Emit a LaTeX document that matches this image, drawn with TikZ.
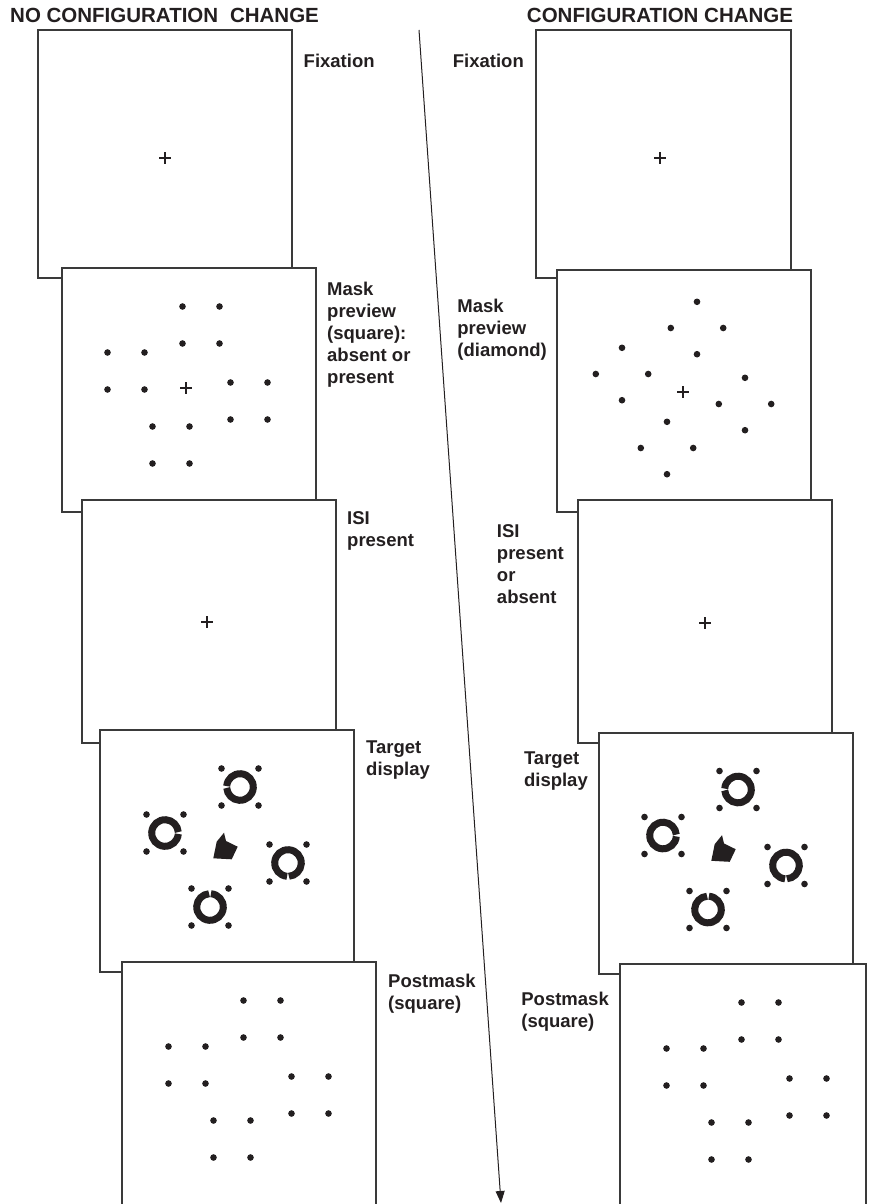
\documentclass[tikz,border=0pt]{standalone}
\usepackage{fontspec}
\setmainfont{Liberation Sans}
\usetikzlibrary{arrows.meta}

\definecolor{ink}{HTML}{231F20}
\definecolor{frame}{HTML}{3A3A3A}

\tikzset{
  screen/.style={draw=frame, fill=white, line width=1.3pt},
  lbl/.style={font=\fontsize{18.5}{22}\selectfont\bfseries, text=ink,
    align=left, inner sep=0pt},
  head/.style={font=\fontsize{20.5}{24}\selectfont\bfseries, text=ink, inner sep=0pt},
  % fixation cross
  fixcross/.pic={\draw[ink, line width=2.9pt] (-5.6,0) -- (5.6,0) (0,-5.6) -- (0,5.6);},
  % four dots at the corners of a square
  quad/.pic={\fill[ink] (-18.5,-18.5) circle (3.3) (18.5,-18.5) circle (3.3)
                        (-18.5,18.5) circle (3.3) (18.5,18.5) circle (3.3);},
  % four dots at the corners of a diamond
  rhomb/.pic={\fill[ink] (0,-26.2) circle (3.3) (0,26.2) circle (3.3)
                         (-26.2,0) circle (3.3) (26.2,0) circle (3.3);},
  % thick ring with a small gap at angle #1
  ring/.pic={\draw[ink, line width=7pt]
     (#1+4:13.3) arc[start angle=#1+4, end angle=#1+356, radius=13.3];},
  % square mask: four square groups of dots
  sqmask/.pic={\foreach \cx/\cy in {140/57, 65/103, 188/133, 110/177}
     {\pic at (\cx,\cy) {quad};}},
  % diamond mask: four diamond groups of dots
  dimask/.pic={\foreach \cx/\cy in {140/57, 65/103, 188/133, 110/177}
     {\pic at (\cx,\cy) {rhomb};}},
  % target display: four gapped rings with their dots and the central cue
  targets/.pic={
     \foreach \cx/\cy in {140/57, 65/103, 188/133, 110/177}
        {\pic at (\cx,\cy) {quad};}
     \pic at (140,57) {ring=180};
     \pic at (65,103) {ring=0};
     \pic at (188,133) {ring=90};
     \pic at (110,177) {ring=270};
     \fill[ink] (124,102.7) -- (126,111) -- (137.7,116.7) -- (131.7,129.3)
                -- (113.3,128.3) -- (116.7,111.7) -- cycle;
  },
}

\begin{document}
\begin{tikzpicture}[x=1pt, y=-1pt]
\useasboundingbox (0,0) rectangle (868,1204);
\clip (0,0) rectangle (868,1204);

% column headings
\node[head, anchor=base west] (hleft) at (10,22.5) {NO CONFIGURATION\hspace{0.3em} CHANGE};
\node[head, anchor=base] (hright) at (660,22.5) {CONFIGURATION CHANGE};

% ---------------- left sequence ----------------
\draw[screen] (38,30) rectangle ++(254,248);
\pic at (165,158) {fixcross};
\draw[screen] (62,268) rectangle ++(254,244);
\begin{scope}[shift={(61,268)}]
  \pic {sqmask};
  \pic at (125,120) {fixcross};
\end{scope}
\draw[screen] (82,500) rectangle ++(254,243);
\pic at (207,622) {fixcross};
\draw[screen] (100,730) rectangle ++(254,242);
\begin{scope}[shift={(100,730)}]
  \pic {targets};
\end{scope}
\draw[screen] (122,962) rectangle ++(254,260);
\begin{scope}[shift={(122,962)}]
  \pic {sqmask};
\end{scope}

% step labels (first-line baseline 13.4 below the anchor)
\node[lbl, anchor=north west] (l1) at (303.5,53.6) {Fixation};
\node[lbl, anchor=north west] (l2) at (327,281.6) {Mask\\preview\\(square):\\absent or\\present};
\node[lbl, anchor=north west] (l3) at (347,511.6) {ISI\\present};
\node[lbl, anchor=north west] (l4) at (366,740.6) {Target\\display};
\node[lbl, anchor=north west] (l5) at (388,973.6) {Postmask\\(square)};

% ---------------- right sequence ----------------
\draw[screen] (536,30) rectangle ++(255,248);
\pic at (660,158) {fixcross};
\draw[screen] (557,270) rectangle ++(254,242);
\begin{scope}[shift={(557,271)}]
  \pic {dimask};
  \pic at (126,121) {fixcross};
\end{scope}
\draw[screen] (578,500) rectangle ++(254,243);
\pic at (705,623) {fixcross};
\draw[screen] (599,733) rectangle ++(254,241);
\begin{scope}[shift={(598,732.5)}]
  \pic {targets};
\end{scope}
\draw[screen] (620,964) rectangle (866,1224);
\begin{scope}[shift={(620,964)}]
  \pic {sqmask};
\end{scope}

\node[lbl, anchor=north east] (r1) at (524,53.6) {Fixation};
\node[lbl, anchor=north east] (r2) at (547,298.6) {Mask\\preview\\(diamond)};
\node[lbl, anchor=north east] (r3) at (564,524.6) {ISI\\present\\or\\absent};
\node[lbl, anchor=north east] (r4) at (588,751.6) {Target\\display};
\node[lbl, anchor=north east] (r5) at (609,991.6) {Postmask\\(square)};

% time axis
\coordinate (t0) at (419,30);
\coordinate (t1) at (501,1203);
\draw[ink, line width=1pt, -{Triangle[length=12pt, width=9pt]}] (t0) -- (t1);
\end{tikzpicture}
\end{document}
